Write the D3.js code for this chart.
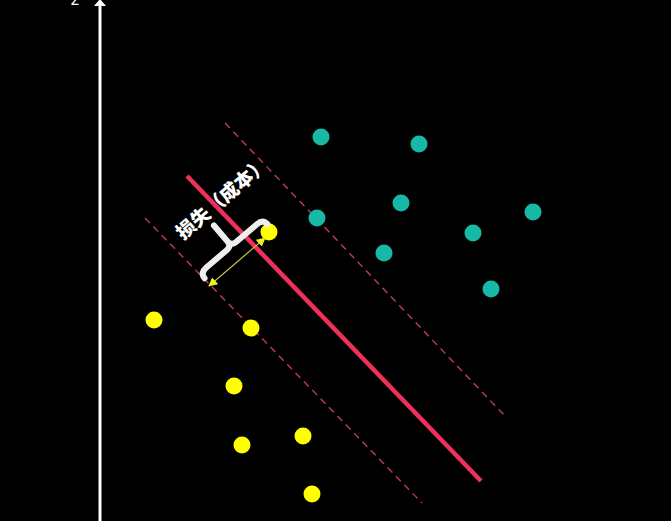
<!DOCTYPE html>
<html>
<head>
<meta charset="utf-8">
<script src="https://cdn.jsdelivr.net/npm/d3@7/dist/d3.min.js"></script>
<style>
html,body{margin:0;padding:0;background:#000;}
svg{display:block;}
</style>
</head>
<body>
<script>
// Data (arbitrary units)
const classA = [ // yellow
  [3.38,5.36],[1.08,3.60],[3.02,3.44],[2.68,2.28],[2.84,1.10],[4.06,1.28],[4.24,0.12]
];
const classB = [ // teal
  [4.42,7.26],[6.38,7.12],[6.02,5.94],[4.34,5.64],[8.66,5.76],[7.46,5.34],[5.68,4.94],[7.82,4.22]
];
const mainLine = [[1.74,6.48],[7.62,0.38]];
const upperMargin = [[2.50,7.54],[8.10,1.68]];
const lowerMargin = [[0.90,5.64],[6.44,-0.06]];
const axisLabel = "z";
const lossLabel = "损失（成本）";

const W = 671, H = 521;
const x = d3.scaleLinear().domain([0,10]).range([100,600]);
const y = d3.scaleLinear().domain([0,10]).range([500,0]);

const svg = d3.select("body").append("svg").attr("width",W).attr("height",H);
svg.append("rect").attr("width",W).attr("height",H).attr("fill","#000");

// vertical axis with arrow
svg.append("line").attr("x1",x(0)).attr("x2",x(0)).attr("y1",H).attr("y2",4)
  .attr("stroke","#fff").attr("stroke-width",3);
svg.append("path").attr("d",`M${x(0)-6},6 L${x(0)},-1 L${x(0)+6},6 Z`).attr("fill","#fff");
svg.append("text").attr("x",x(0)-25).attr("y",5).attr("fill","#fff")
  .attr("font-family","DejaVu Sans").attr("font-size",16).attr("text-anchor","middle").text(axisLabel);

const lineGen = d3.line().x(d=>x(d[0])).y(d=>y(d[1]));

// dashed margins
[upperMargin, lowerMargin].forEach(m=>{
  svg.append("path").attr("d",lineGen(m)).attr("stroke","#e0456e").attr("stroke-width",1.4)
    .attr("stroke-dasharray","7,5").attr("fill","none").attr("opacity",0.85);
});

// points
svg.selectAll("circle.b").data(classB).join("circle").attr("class","b")
  .attr("cx",d=>x(d[0])).attr("cy",d=>y(d[1])).attr("r",8.5).attr("fill","#17b8a6");
svg.selectAll("circle.a").data(classA).join("circle").attr("class","a")
  .attr("cx",d=>x(d[0])).attr("cy",d=>y(d[1])).attr("r",8.5).attr("fill","#ffff00");

// main separator
svg.append("path").attr("d",lineGen(mainLine)).attr("stroke","#f0305c").attr("stroke-width",4.5)
  .attr("fill","none").attr("stroke-linecap","butt");

// yellow double arrow (loss distance)
const defs = svg.append("defs");
defs.append("marker").attr("id","ah").attr("viewBox","0 0 10 10").attr("refX",9).attr("refY",5)
  .attr("markerWidth",9).attr("markerHeight",9).attr("orient","auto-start-reverse")
  .attr("markerUnits","userSpaceOnUse")
  .append("path").attr("d","M0,0 L10,5 L0,10 Z").attr("fill","#f0f020");
svg.append("line").attr("x1",x(2.18)).attr("y1",y(4.28)).attr("x2",x(3.30)).attr("y2",y(5.24))
  .attr("stroke","#c8c838").attr("stroke-width",1.2)
  .attr("marker-start","url(#ah)").attr("marker-end","url(#ah)");

// curly brace
const g = svg.append("g");
const bx0 = 200, by0 = 273, bx1 = 263, by1 = 219;
const mx = (bx0+bx1)/2, my = (by0+by1)/2;
const ux = (bx1-bx0), uy = (by1-by0); const L = Math.hypot(ux,uy);
const dx = ux/L, dy = uy/L;
const ppx = uy/L, ppy = -ux/L;
const pux = -Math.abs(ppx), puy = -Math.abs(ppy); // towards upper-left
const h = 7;
const path = d3.path();
path.moveTo(bx0 - pux*h, by0 - puy*h);
path.quadraticCurveTo(bx0, by0, bx0 + dx*8, by0 + dy*8);
path.lineTo(mx - dx*6, my - dy*6);
path.quadraticCurveTo(mx, my, mx + pux*6, my + puy*6);
path.lineTo(mx + pux*27, my + puy*27);
path.moveTo(mx + pux*6, my + puy*6);
path.quadraticCurveTo(mx, my, mx + dx*6, my + dy*6);
path.lineTo(bx1 - dx*8, by1 - dy*8);
path.quadraticCurveTo(bx1, by1, bx1 - pux*h, by1 - puy*h);
g.append("path").attr("d",path.toString()).attr("stroke","#eeeeee").attr("stroke-width",6)
  .attr("fill","none").attr("stroke-linecap","round").attr("stroke-linejoin","round");

// label
const ang = Math.atan2(uy,ux)*180/Math.PI;
svg.append("text").attr("transform",`translate(${mx + dx*24 + pux*44},${my + dy*24 + puy*44}) rotate(${ang})`)
  .attr("text-anchor","middle").attr("dominant-baseline","central")
  .attr("fill","#fff").attr("font-family","Noto Sans CJK SC").attr("font-weight","900")
  .attr("font-size",19).text(lossLabel);
</script>
</body>
</html>
